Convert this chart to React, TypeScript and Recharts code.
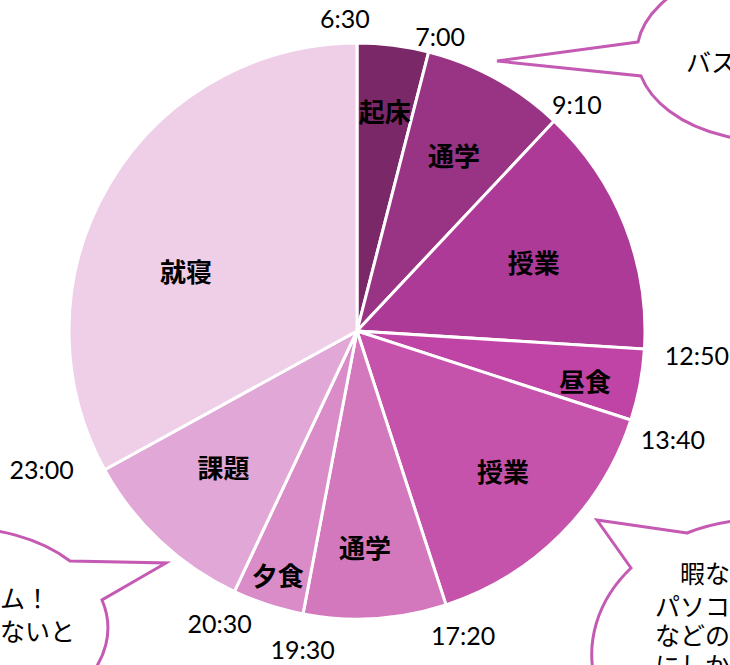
import { Cell, Pie, PieChart } from 'recharts';

const activities = ['起床', '通学', '授業', '昼食', '授業', '通学', '夕食', '課題', '就寝'];
const hours = [1, 2, 3.5, 1, 3.75, 2, 1, 2.5, 8.25];
const startTimes = ['6:30', '7:00', '9:10', '12:50', '13:40', '17:20', '19:30', '20:30', '23:00'];

const COLORS = ['#7A2868', '#993383', '#AE3A97', '#C044A5', '#C552AB', '#D478BE', '#D98CC8', '#E1A7D6', '#EFCFE8'];
// where each activity name sits inside its slice: share of radius, turn in degrees
const LABEL_RADIUS = [0.77, 0.7, 0.66, 0.81, 0.7, 0.75, 0.89, 0.66, 0.63];
const LABEL_TURN = [0, 0, 0, -1.5, 1.4, -1.5, 0, -1.4, 11];
// hand nudges for the time labels outside the rim: extra push (px), turn (deg)
const TIME_PUSH = [0, -12, -11, 6, -2, 0, 4, -3, 9];
const TIME_TURN = [2.2, -1.3, -0.9, -0.4, -0.9, 1.2, 1.1, 0, -5.1];

const BUBBLE = '#C45AB3';
const JP = '"Noto Sans CJK JP", sans-serif';

const data = activities.map((name, i) => ({ name, value: hours[i] }));

const RAD = Math.PI / 180;

function renderLabel(props: any) {
  const { cx, cy, midAngle, startAngle, outerRadius, index } = props;
  const a = (midAngle + LABEL_TURN[index]) * RAD;
  const r = outerRadius * LABEL_RADIUS[index];
  const x = cx + r * Math.cos(a);
  const y = cy - r * Math.sin(a);

  // time of day at the slice's starting edge, pushed out past the rim
  const t = startTimes[index];
  const c = Math.cos(startAngle * RAD);
  const s = Math.sin(startAngle * RAD);
  const halfW = ((t.length - 1) * 14.5 + 6) / 2;
  const d = outerRadius + 14 + halfW * Math.abs(c) + 11 * Math.abs(s) + TIME_PUSH[index];
  const ta = (startAngle + TIME_TURN[index]) * RAD;
  const tx = cx + d * Math.cos(ta);
  const ty = cy - d * Math.sin(ta);

  return (
    <g>
      <text
        x={x}
        y={y}
        textAnchor="middle"
        dominantBaseline="central"
        fontFamily={JP}
        fontWeight={700}
        fontSize={26}
        fill="#000"
      >
        {activities[index]}
      </text>
      <text
        x={tx}
        y={ty}
        textAnchor="middle"
        dominantBaseline="central"
        fontFamily="Lato, sans-serif"
        fontSize={25}
        fill="#000"
      >
        {t}
      </text>
    </g>
  );
}

function Bubbles() {
  const text = { fontFamily: JP, fontSize: 25, fill: '#000', dominantBaseline: 'central' as const };
  return (
    <svg width={730} height={665} style={{ position: 'absolute', left: 0, top: 0 }}>
      <path
        d="M 638 42 L 497 61 L 641 76 A 133 87 0 1 0 638 42 Z"
        fill="#fff"
        stroke={BUBBLE}
        strokeWidth={3}
      />
      <text x={686} y={61} {...text}>バス</text>

      <path
        d="M 70 561 L 166 563 L 102 600 A 147 100 0 1 1 70 561 Z"
        fill="#fff"
        stroke={BUBBLE}
        strokeWidth={3}
      />
      <text x={0} y={597} {...text}>ム！</text>
      <text x={0} y={630} {...text}>ないと</text>

      <path
        d="M 687 533 L 597 520 L 631 568 A 170 135 0 1 0 687 533 Z"
        fill="#fff"
        stroke={BUBBLE}
        strokeWidth={3}
      />
      <text x={680} y={572} {...text}>暇な</text>
      <text x={655} y={605} {...text}>パソコ</text>
      <text x={655} y={634} {...text}>などの</text>
      <text x={655} y={664} {...text}>にしか</text>
    </svg>
  );
}

export default function App() {
  return (
    <div
      style={{
        position: 'absolute',
        left: 0,
        top: 0,
        width: 730,
        height: 665,
        overflow: 'hidden',
        background: '#fff',
      }}
    >
      <PieChart width={730} height={665} margin={{ top: 0, right: 0, bottom: 0, left: 0 }}>
        <Pie
          data={data}
          dataKey="value"
          nameKey="name"
          cx={357}
          cy={331}
          outerRadius={288}
          startAngle={90}
          endAngle={-270}
          stroke="#fff"
          strokeWidth={3}
          label={renderLabel}
          labelLine={false}
          isAnimationActive={false}
        >
          {data.map((d, i) => (
            <Cell key={d.name + i} fill={COLORS[i]} />
          ))}
        </Pie>
      </PieChart>
      <Bubbles />
    </div>
  );
}
